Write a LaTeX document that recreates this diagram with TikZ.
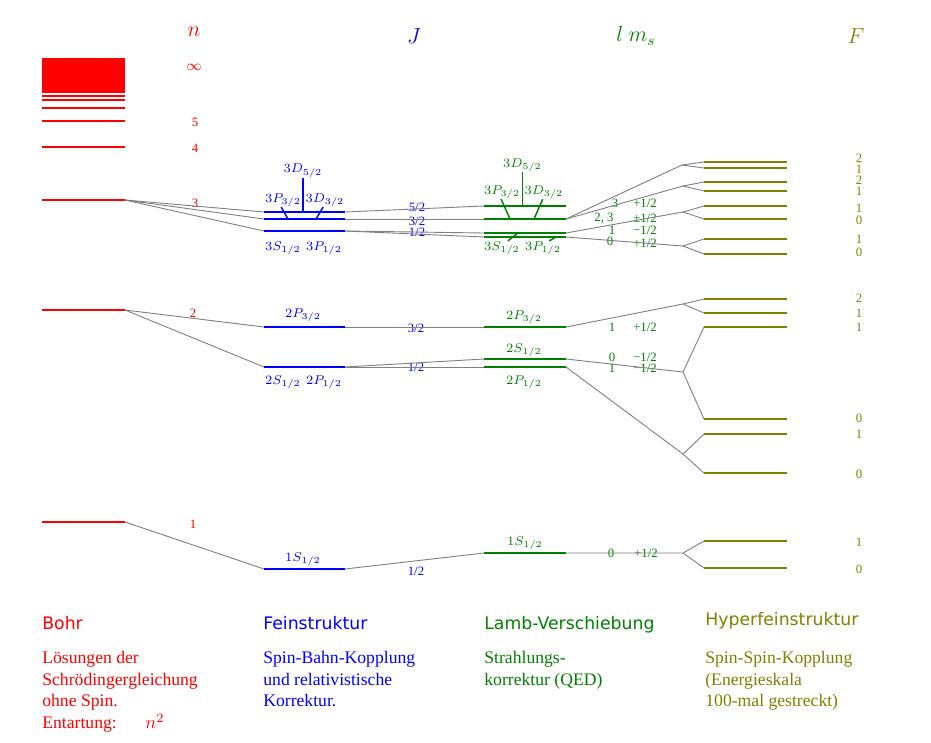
\documentclass[tikz,border=0pt]{standalone}
\usepackage{fontspec}
\setmainfont{Liberation Serif}
\setsansfont{DejaVu Sans}
\definecolor{bohrred}{rgb}{1,0,0}
\definecolor{feinblue}{rgb}{0,0,1}
\definecolor{lambgreen}{rgb}{0,0.5,0}
\definecolor{hfolive}{rgb}{0.5,0.5,0}
\begin{document}
\begin{tikzpicture}[x=0.55pt,y=-0.55pt,
                lvl/.style={line width=1.1pt},
                con/.style={gray, line width=0.5pt},
                tk/.style={line width=0.8pt},
                num/.style={font=\fontsize{7}{8}\selectfont, inner sep=0pt},
                term/.style={font=\fontsize{7.4}{8.5}\selectfont, inner sep=0pt},
                head/.style={font=\fontsize{9.5}{11}\selectfont\sffamily, anchor=base west, inner sep=0pt},
                txt/.style={font=\fontsize{9.7}{12}\selectfont, anchor=base west, inner sep=0pt}]
                \useasboundingbox (0,0) rectangle (931,742) ;
                \draw (194,32) node [bohrred, font=\large] (hn) {$n$} ;
                \draw (414,36) node [feinblue, font=\large] (hj) {$J$} ;
                \draw (636,36) node [lambgreen, font=\large] (hl) {$l\ m_s$} ;
                \draw (856,36) node [hfolive, font=\large] (hf) {$F$} ;
                \fill [bohrred] (42,58) rectangle (125,93) ;
                \foreach \y in {96,100.3,107.7,120.7,147.3}
                    \draw [bohrred, lvl] (42,\y) -- (125,\y) ;
                \draw [bohrred, lvl] (42,200) -- (125,200) coordinate (b3r) ;
                \draw [bohrred, lvl] (42,310) -- (125,310) coordinate (b2r) ;
                \draw [bohrred, lvl] (42,522) -- (125,522) coordinate (b1r) ;
                \draw (194,67) node [bohrred, font=\footnotesize] (ninf) {$\infty$} ;
                \draw (195,122) node [bohrred, num] (n5) {5} ;
                \draw (195,148) node [bohrred, num] (n4) {4} ;
                \draw (195,203) node [bohrred, num] (n3) {3} ;
                \draw (193,313) node [bohrred, num] (n2) {2} ;
                \draw (193,524) node [bohrred, num] (n1) {1} ;
                \draw [feinblue, lvl] (264,212) coordinate (f3dl) -- (303,212) coordinate (f3dm) -- (345,212) coordinate (f3dr) ;
                \draw [feinblue, lvl] (264,219) coordinate (f3pl) -- (288,219) coordinate (f3pa) -- (316,219) coordinate (f3pb) -- (345,219) coordinate (f3pr) ;
                \draw [feinblue, lvl] (264,231) coordinate (f3sl) -- (345,231) coordinate (f3sr) ;
                \draw [feinblue, lvl] (264,327) coordinate (f2pl) -- (345,327) coordinate (f2pr) ;
                \draw [feinblue, lvl] (264,367) coordinate (f2sl) -- (345,367) coordinate (f2sr) ;
                \draw [feinblue, lvl] (264,569) coordinate (f1sl) -- (345,569) coordinate (f1sr) ;
                \draw (303,171) node [feinblue, term] (f3d5) {$3D_{5/2}$} ;
                \draw (283,200) node [feinblue, term] (f3p3) {$3P_{3/2}$} ;
                \draw (325,200) node [feinblue, term] (f3d3) {$3D_{3/2}$} ;
                \draw (283,248) node [feinblue, term] (f3s1) {$3S_{1/2}$} ;
                \draw (324,248) node [feinblue, term] (f3p1) {$3P_{1/2}$} ;
                \draw (303,315) node [feinblue, term] (f2p3) {$2P_{3/2}$} ;
                \draw (283,382) node [feinblue, term] (f2s1) {$2S_{1/2}$} ;
                \draw (324,382) node [feinblue, term] (f2p1) {$2P_{1/2}$} ;
                \draw (303,559) node [feinblue, term] (f1s1) {$1S_{1/2}$} ;
                \draw [feinblue, tk] (f3d5.south) -- (f3dm) ;
                \draw [feinblue, tk] ([xshift=-1pt]f3p3.south) -- (f3pa) ;
                \draw [feinblue, tk] ([xshift=-1pt]f3d3.south) -- (f3pb) ;
                \draw (417,207) node [feinblue, num] (j52) {5/2} ;
                \draw (417,221) node [feinblue, num] (j32) {3/2} ;
                \draw (417,232) node [feinblue, num] (j12) {1/2} ;
                \draw (416,328) node [feinblue, num] (j232) {3/2} ;
                \draw (416,367) node [feinblue, num] (j212) {1/2} ;
                \draw (416,571) node [feinblue, num] (j112) {1/2} ;
                \draw [lambgreen, lvl] (484,206) coordinate (l3dl) -- (522.5,206) coordinate (l3dm) -- (566,206) ;
                \draw [lambgreen, lvl] (484,219) coordinate (l3pl) -- (510,219) coordinate (l3pa) -- (534,219) coordinate (l3pb) -- (566,219) coordinate (l3pr) ;
                \draw [lambgreen, lvl] (484,233) coordinate (l3sl) -- (518,233) coordinate (l3sa) -- (566,233) coordinate (l3sr) ;
                \draw [lambgreen, lvl] (484,237) coordinate (l3ql) -- (556,237) coordinate (l3qa) -- (566,237) coordinate (l3qr) ;
                \draw [lambgreen, lvl] (484,327) coordinate (l2pl) -- (566,327) coordinate (l2pr) ;
                \draw [lambgreen, lvl] (484,359) coordinate (l2sl) -- (566,359) coordinate (l2sr) ;
                \draw [lambgreen, lvl] (484,367) coordinate (l2ql) -- (566,367) coordinate (l2qr) ;
                \draw [lambgreen, lvl] (484,553) coordinate (l1sl) -- (566,553) coordinate (l1sr) ;
                \draw (522.5,165) node [lambgreen, term] (l3d5) {$3D_{5/2}$} ;
                \draw (502,192) node [lambgreen, term] (l3p3) {$3P_{3/2}$} ;
                \draw (544,192) node [lambgreen, term] (l3d3) {$3D_{3/2}$} ;
                \draw (502,248) node [lambgreen, term] (l3s1) {$3S_{1/2}$} ;
                \draw (543,248) node [lambgreen, term] (l3p1) {$3P_{1/2}$} ;
                \draw (524,317) node [lambgreen, term] (l2p3) {$2P_{3/2}$} ;
                \draw (524,350) node [lambgreen, term] (l2s1) {$2S_{1/2}$} ;
                \draw (524,382) node [lambgreen, term] (l2p1) {$2P_{1/2}$} ;
                \draw (525,543) node [lambgreen, term] (l1s1) {$1S_{1/2}$} ;
                \draw [lambgreen, tk] (l3d5.south) -- (l3dm) ;
                \draw [lambgreen, tk] ([xshift=-0.5pt]l3p3.south) -- (l3pa) ;
                \draw [lambgreen, tk] ([xshift=-0.7pt]l3d3.south) -- (l3pb) ;
                \draw [lambgreen, tk] ([xshift=3.2pt]l3s1.north) -- (l3sa) ;
                \draw [lambgreen, tk] ([xshift=3.4pt]l3p1.north) -- (l3qa) ;
                \draw (615,203) node [lambgreen, num] (m3a) {3} ;
                \draw (645,203) node [lambgreen, num] (s3a) {+1/2} ;
                \draw (604,218) node [lambgreen, num] (m3b) {2, 3} ;
                \draw (645,218) node [lambgreen, num] (s3b) {±1/2} ;
                \draw (612,230) node [lambgreen, num] (m3c) {1} ;
                \draw (645,230) node [lambgreen, num] (s3c) {−1/2} ;
                \draw (610,241) node [lambgreen, num] (m3d) {0} ;
                \draw (645,243) node [lambgreen, num] (s3d) {+1/2} ;
                \draw (612,327) node [lambgreen, num] (m2a) {1} ;
                \draw (645,327) node [lambgreen, num] (s2a) {+1/2} ;
                \draw (612,357) node [lambgreen, num] (m2b) {0} ;
                \draw (645,357) node [lambgreen, num] (s2b) {−1/2} ;
                \draw (612,368) node [lambgreen, num] (m2c) {1} ;
                \draw (645,368) node [lambgreen, num] (s2c) {−1/2} ;
                \draw (611,553) node [lambgreen, num] (m1a) {0} ;
                \draw (646,553) node [lambgreen, num] (s1a) {+1/2} ;
                \foreach \y in {162,168,182,191,206,219,239,254,299,313,327,419,434,473,541,568}
                    \draw [hfolive, lvl] (704,\y) coordinate (h\y) -- (787,\y) ;
                \foreach \y/\f in {158/2,169.5/1,180.5/2,191/1,208/1,220/0,239/1,252/0,298/2,313/1,327/1,418/0,434/1,474/0,542/1,569/0}
                    \draw (859,\y) node [hfolive, num] (fl\y) {\f} ;
                \coordinate (hb1) at (682,165) ;
                \coordinate (hb2) at (683,186) ;
                \coordinate (hb3) at (683,212) ;
                \coordinate (hb4) at (683,246) ;
                \coordinate (hb5) at (683,304) ;
                \coordinate (hb6) at (683,372) ;
                \coordinate (hb7) at (683,454) ;
                \coordinate (hb8) at (683,553) ;
                \draw [con] (b3r) -- (f3dl) ;
                \draw [con] (b3r) -- (f3pl) ;
                \draw [con] (b3r) -- (f3sl) ;
                \draw [con] (b2r) -- (f2pl) ;
                \draw [con] (b2r) -- (f2sl) ;
                \draw [con] (b1r) -- (f1sl) ;
                \draw [con] (f3dr) -- (l3dl) ;
                \draw [con] (f3pr) -- (l3pl) ;
                \draw [con] (f3sr) -- (l3sl) ;
                \draw [con] (f3sr) -- (l3ql) ;
                \draw [con] (f2pr) -- (l2pl) ;
                \draw [con] (f2sr) -- (l2sl) ;
                \draw [con] (f2sr) -- (l2ql) ;
                \draw [con] (f1sr) -- (l1sl) ;
                \draw [con] (l3pr) -- (hb1) -- (h162) ;
                \draw [con] (hb1) -- (h168) ;
                \draw [con] (l3pr) -- (hb2) -- (h182) ;
                \draw [con] (hb2) -- (h191) ;
                \draw [con] (l3sr) -- (hb3) -- (h206) ;
                \draw [con] (hb3) -- (h219) ;
                \draw [con] (l3qr) -- (hb4) -- (h239) ;
                \draw [con] (hb4) -- (h254) ;
                \draw [con] (l2pr) -- (hb5) -- (h299) ;
                \draw [con] (hb5) -- (h313) ;
                \draw [con] (l2sr) -- (hb6) -- (h327) ;
                \draw [con] (hb6) -- (h419) ;
                \draw [con] (l2qr) -- (hb7) -- (h434) ;
                \draw [con] (hb7) -- (h473) ;
                \draw [con] (l1sr) -- (hb8) -- (h541) ;
                \draw [con] (hb8) -- (h568) ;
                \draw (42,629) node [head, bohrred] (tbohr) {Bohr} ;
                \draw (263,629) node [head, feinblue] (tfein) {Feinstruktur} ;
                \draw (484,629) node [head, lambgreen] (tlamb) {Lamb-Verschiebung} ;
                \draw (705,625) node [head, hfolive] (thf) {Hyperfeinstruktur} ;
                \draw (42,663.5) node [txt, bohrred] (bt1) {Lösungen der} ;
                \draw (42,685.2) node [txt, bohrred] (bt2) {Schrödingergleichung} ;
                \draw (42,706.9) node [txt, bohrred] (bt3) {ohne Spin.} ;
                \draw (42,728.6) node [txt, bohrred] (bt4) {Entartung:} ;
                \draw (145,728.6) node [txt, bohrred] (bt5) {$n^2$} ;
                \draw (263,663.5) node [txt, feinblue] (ft1) {Spin-Bahn-Kopplung} ;
                \draw (263,685.2) node [txt, feinblue] (ft2) {und relativistische} ;
                \draw (263,706.9) node [txt, feinblue] (ft3) {Korrektur.} ;
                \draw (484,663.5) node [txt, lambgreen] (lt1) {Strahlungs-} ;
                \draw (484,685.2) node [txt, lambgreen] (lt2) {korrektur (QED)} ;
                \draw (705,663.5) node [txt, hfolive] (ht1) {Spin-Spin-Kopplung} ;
                \draw (705,685.2) node [txt, hfolive] (ht2) {(Energieskala} ;
                \draw (705,706.9) node [txt, hfolive] (ht3) {100-mal gestreckt)} ;
\end{tikzpicture}
\end{document}
